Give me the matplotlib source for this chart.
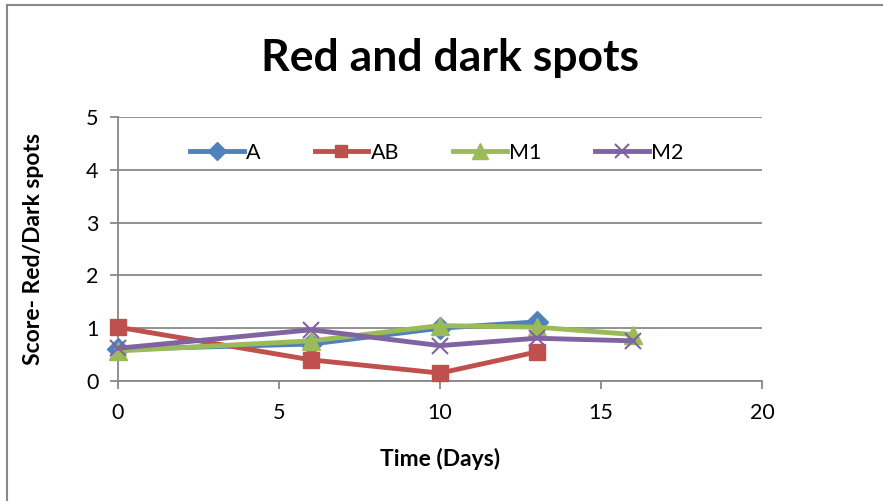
import matplotlib.pyplot as plt
from matplotlib.lines import Line2D

days = [0, 6, 10, 13, 16]
a_days = [0, 6, 10, 13]
a_vals = [0.6, 0.7, 1.0, 1.12]
ab_days = [0, 6, 10, 13]
ab_vals = [1.02, 0.4, 0.15, 0.55]
m1_vals = [0.57, 0.76, 1.05, 1.02, 0.88]
m2_vals = [0.62, 0.97, 0.67, 0.81, 0.76]

plt.rcParams['font.family'] = ['Lato', 'DejaVu Sans']

fig = plt.figure(figsize=(8.83, 5.01), dpi=100)
ax = fig.add_axes([0.1336, 0.2395, 0.7294, 0.527])

grid_c = '#888888'
ax.set_xlim(0, 20)
ax.set_ylim(0, 5)
ax.set_xticks([0, 5, 10, 15, 20])
ax.set_yticks([0, 1, 2, 3, 4, 5])
ax.yaxis.grid(True, color=grid_c, lw=1.3)
ax.set_axisbelow(True)
for s in ['top', 'right']:
    ax.spines[s].set_visible(False)
for s in ['left', 'bottom']:
    ax.spines[s].set_color(grid_c)
    ax.spines[s].set_linewidth(1.3)
ax.tick_params(axis='both', colors=grid_c, length=6, width=1.3,
               labelcolor='black', labelsize=15.5)
ax.tick_params(axis='x', pad=10)
ax.tick_params(axis='y', pad=8)

style = dict(lw=3.5, markersize=11, clip_on=False)
ax.plot(a_days, a_vals, color='#4F81BD', marker='D', label='A', zorder=3, **style)
ax.plot(ab_days, ab_vals, color='#C0504D', marker='s', label='AB', zorder=4, **style)
ax.plot(days, m1_vals, color='#9BBB59', marker='^', label='M1', zorder=5,
        **dict(style, markersize=13))
ax.plot(days, m2_vals, color='#8064A2', marker='x', label='M2', zorder=6,
        markeredgewidth=1.5, **dict(style, markersize=12))

ax.legend(loc='upper center', bbox_to_anchor=(0.495, 0.975), ncol=4, frameon=False,
          fontsize=15.5, handlelength=2.5, handletextpad=0.1, columnspacing=2.5,
          markerscale=0.85)

ax.set_xlabel('Time (Days)', fontsize=16.5, fontweight='bold', labelpad=18)
ax.set_ylabel('Score- Red/Dark spots', fontsize=16.5, fontweight='bold', labelpad=30)
fig.suptitle('Red and dark spots', fontsize=32, fontweight='bold', x=0.51, y=0.925)

fig.add_artist(Line2D([0.008, 0.008], [0, 0.99], color=grid_c, lw=1.5))
fig.add_artist(Line2D([0.008, 1.0], [0.99, 0.99], color=grid_c, lw=1.5))

fig.savefig('out.png', dpi=100)
